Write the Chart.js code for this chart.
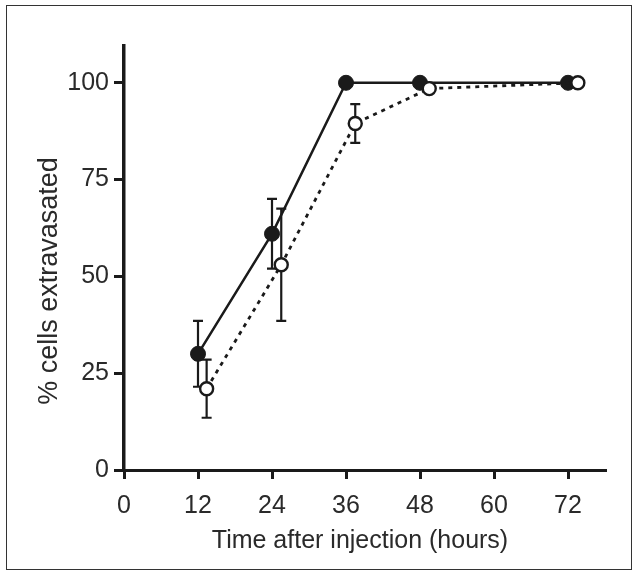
<!DOCTYPE html>
<html>
<head>
<meta charset="utf-8">
<script src="https://cdn.jsdelivr.net/npm/chart.js@4/dist/chart.umd.min.js"></script>
<style>
  body { margin: 0; background: #fff; }
  #wrap { position: relative; width: 639px; height: 578px; }
  #frame { position: absolute; left: 6px; top: 5px; width: 626px; height: 565px; border: 1px solid #333; box-sizing: border-box; pointer-events: none; }
</style>
</head>
<body>
<div id="wrap">
  <canvas id="chart" width="639" height="578"></canvas>
  <div id="frame"></div>
</div>
<script>
// Data
const filledHours = [12, 24, 36, 48, 72];
const filledPct = [30, 61, 100, 100, 100];
const filledErr = [8.5, 9, 0, 0, 0];

const openHours = [13.4, 25.5, 37.5, 49.5, 73.6];
const openPct = [21, 53, 89.5, 98.5, 100];
const openErr = [7.5, 14.5, 5, 0, 0];

const xTitle = "Time after injection (hours)";
const yTitle = "% cells extravasated";

const FONT = "'Liberation Sans', Arial, sans-serif";
const INK = "#1a1a1a";
const TEXT = "#2a2a2a";

function toPoints(xs, ys) {
    return xs.map((x, i) => ({ x: x, y: ys[i] }));
}

// Error bars, drawn under the markers
const errorBars = {
    id: "errorBars",
    beforeDatasetsDraw(chart) {
        const ctx = chart.ctx;
        const xs = chart.scales.x, ys = chart.scales.y;
        const sets = [[openHours, openPct, openErr], [filledHours, filledPct, filledErr]];
        ctx.save();
        ctx.strokeStyle = INK;
        ctx.lineWidth = 2.2;
        sets.forEach(([hx, py, pe]) => {
            hx.forEach((h, i) => {
                if (!pe[i]) return;
                const px = xs.getPixelForValue(h);
                const top = ys.getPixelForValue(py[i] + pe[i]);
                const bot = ys.getPixelForValue(py[i] - pe[i]);
                ctx.beginPath();
                ctx.moveTo(px, top); ctx.lineTo(px, bot);
                ctx.moveTo(px - 5, top); ctx.lineTo(px + 5, top);
                ctx.moveTo(px - 5, bot); ctx.lineTo(px + 5, bot);
                ctx.stroke();
            });
        });
        ctx.restore();
    }
};

// Axis titles
const axisTitles = {
    id: "axisTitles",
    afterDraw(chart) {
        const ctx = chart.ctx;
        ctx.save();
        ctx.fillStyle = TEXT;
        ctx.textAlign = "center";
        ctx.textBaseline = "middle";
        ctx.font = "25px " + FONT;
        ctx.fillText(xTitle, 360, 541);
        ctx.translate(50, 281);
        ctx.rotate(-Math.PI / 2);
        ctx.font = "27px " + FONT;
        ctx.fillText(yTitle, 0, 0);
        ctx.restore();
    }
};

const ctx = document.getElementById("chart").getContext("2d");
const chart = new Chart(ctx, {
    type: "line",
    data: {
        datasets: [
            {
                label: "open",
                data: toPoints(openHours, openPct),
                borderColor: INK,
                borderWidth: 2.8,
                borderDash: [4, 5],
                backgroundColor: "#fff",
                pointBackgroundColor: "#fff",
                pointBorderColor: INK,
                pointBorderWidth: 2.4,
                pointRadius: 6.5,
                tension: 0
            },
            {
                label: "filled",
                data: toPoints(filledHours, filledPct),
                borderColor: INK,
                borderWidth: 2.5,
                backgroundColor: INK,
                pointBackgroundColor: INK,
                pointBorderColor: INK,
                pointBorderWidth: 1,
                pointRadius: 7.5,
                tension: 0
            }
        ]
    },
    options: {
        responsive: false,
        animation: false,
        layout: { padding: { left: 0, top: 46, right: 34, bottom: 0 } },
        plugins: { legend: { display: false }, tooltip: { enabled: false } },
        scales: {
            x: {
                type: "linear",
                min: 0,
                max: 78,
                afterFit(s) { s.height = 108; },
                border: { display: true, color: INK, width: 3 },
                grid: { drawOnChartArea: false, drawTicks: true, tickLength: 9, color: INK, lineWidth: 3 },
                ticks: { stepSize: 12, includeBounds: false, padding: 12, color: TEXT, font: { family: FONT, size: 25 }, maxRotation: 0 }
            },
            y: {
                min: 0,
                max: 109.5,
                afterFit(s) { s.width = 124; },
                border: { display: true, color: INK, width: 3.5 },
                grid: { drawOnChartArea: false, drawTicks: true, tickLength: 10, color: INK, lineWidth: 3 },
                ticks: { stepSize: 25, includeBounds: false, padding: 5, color: TEXT, font: { family: FONT, size: 25 } }
            }
        }
    },
    plugins: [errorBars, axisTitles]
});
</script>
</body>
</html>
